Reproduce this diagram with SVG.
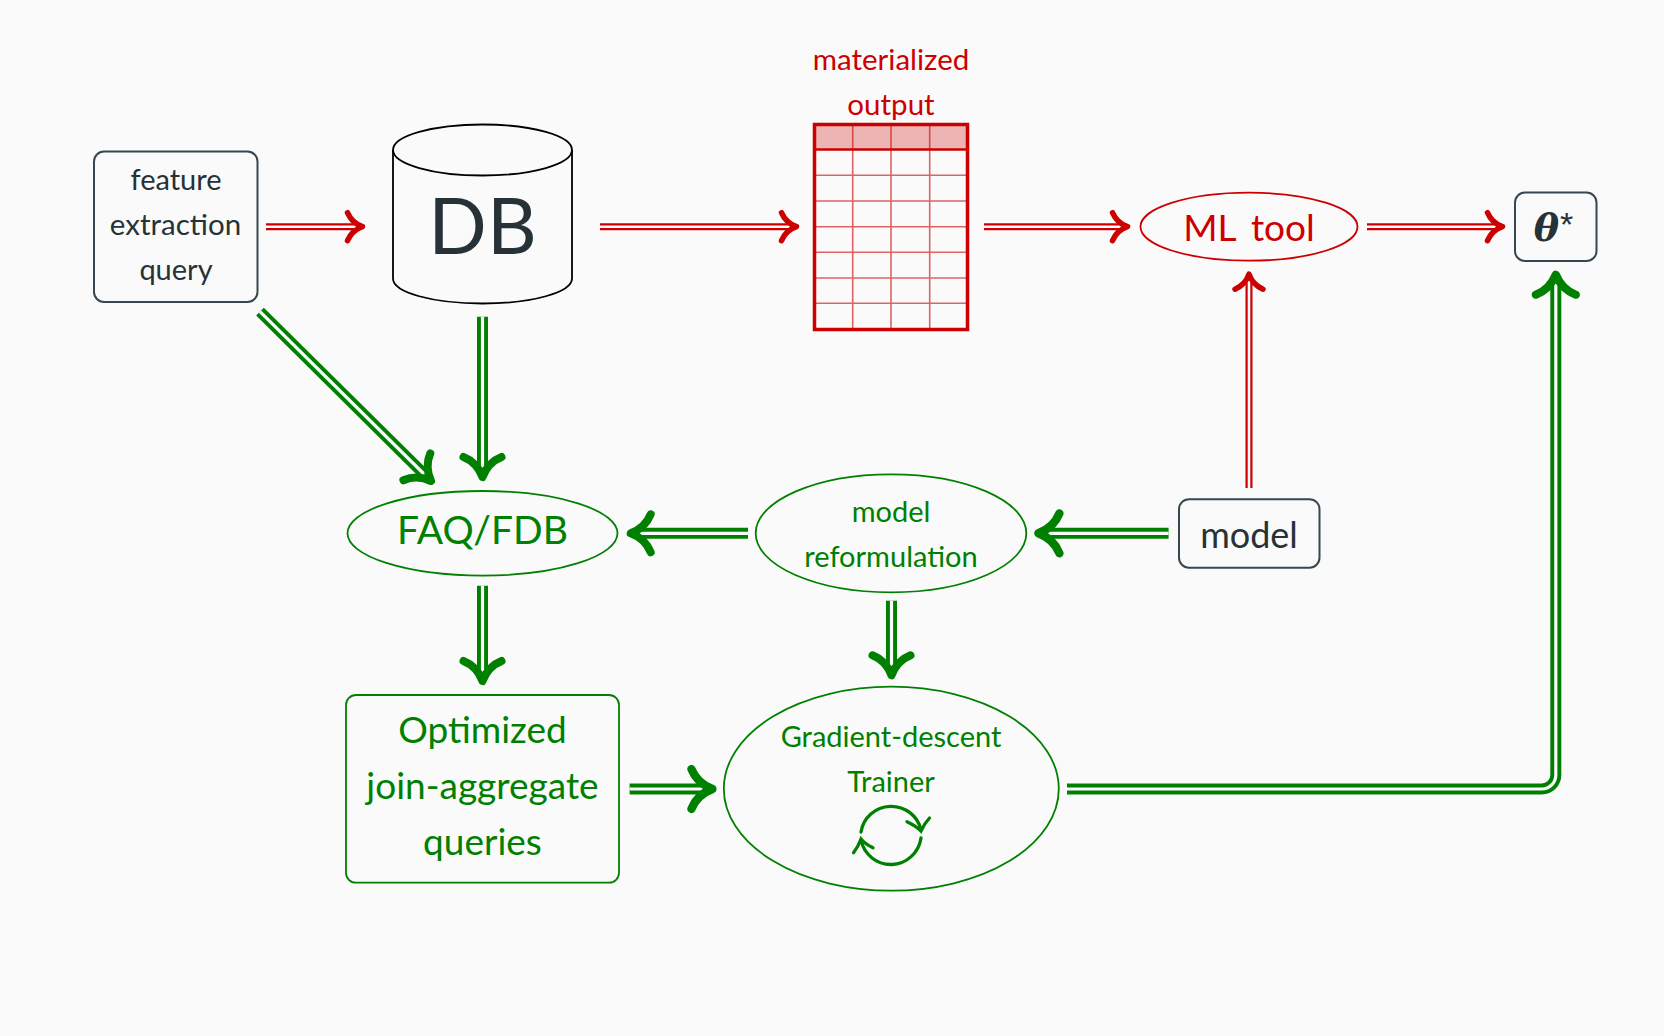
<svg xmlns="http://www.w3.org/2000/svg" width="1664" height="1036" viewBox="0 0 1664 1036">
<style>
text{font-family:"Lato","Noto Sans",sans-serif;text-anchor:middle}
.dk{fill:#263238}.rd{fill:#cc0000}.gn{fill:#008000}
.bx{fill:none;stroke:#37474f;stroke-width:2}
.rs{fill:none;stroke:#cc0000;stroke-width:1.8}
.gs{fill:none;stroke:#008000;stroke-width:1.8}
.lo{fill:none;stroke-linejoin:round}
.r1{stroke:#cc0000;stroke-width:7}
.g1{stroke:#008000;stroke-width:11}
.gap-r{stroke:#fafafa;stroke-width:2.6}
.gap-g{stroke:#fafafa;stroke-width:3.2}
.hr{fill:none;stroke:#cc0000;stroke-width:5.5;stroke-linecap:round;stroke-linejoin:round}
.hg{fill:none;stroke:#008000;stroke-width:8;stroke-linecap:round;stroke-linejoin:round}
.grid{stroke:#cc0000;stroke-opacity:.6;stroke-width:1.6;fill:none}
</style>
<defs>
<path id="hr" class="hr" d="M-15-14C-12-7-6-2 0 0C-6 2-12 7-15 14"/>
<path id="hg" class="hg" d="M-20-19C-16-9-8-3 0 0C-8 3-16 9-20 19"/>
</defs>
<rect width="1664" height="1036" fill="#fafafa"/>
<g id="connectors">
<path class="lo r1" d="M266 226.700H360"/><path class="lo gap-r" d="M266 226.700H360"/><use href="#hr" transform="translate(362.500 226.700)"/>
<path class="lo r1" d="M600 226.700H794"/><path class="lo gap-r" d="M600 226.700H794"/><use href="#hr" transform="translate(796.500 226.700)"/>
<path class="lo r1" d="M984 226.700H1125"/><path class="lo gap-r" d="M984 226.700H1125"/><use href="#hr" transform="translate(1127.500 226.700)"/>
<path class="lo r1" d="M1367 226.700H1500"/><path class="lo gap-r" d="M1367 226.700H1500"/><use href="#hr" transform="translate(1502.500 226.700)"/>
<path class="lo r1" d="M1249 488V277"/><path class="lo gap-r" d="M1249 488V277"/><use href="#hr" transform="translate(1249 274.200) rotate(-90)"/>
<path class="lo g1" d="M260 311.700L428 478"/><path class="lo gap-g" d="M260 311.700L428 478"/><use href="#hg" transform="translate(431 481) rotate(45)"/>
<path class="lo g1" d="M482.500 316.700V473"/><path class="lo gap-g" d="M482.500 316.700V473"/><use href="#hg" transform="translate(482.500 477) rotate(90)"/>
<path class="lo g1" d="M1168.600 533.300H1043"/><path class="lo gap-g" d="M1168.600 533.300H1043"/><use href="#hg" transform="translate(1038.400 533.300) rotate(180) scale(1.05)"/>
<path class="lo g1" d="M748 533.300H635"/><path class="lo gap-g" d="M748 533.300H635"/><use href="#hg" transform="translate(630.700 533.300) rotate(180)"/>
<path class="lo g1" d="M482.500 585.700V677"/><path class="lo gap-g" d="M482.500 585.700V677"/><use href="#hg" transform="translate(482.500 681) rotate(90)"/>
<path class="lo g1" d="M891.500 600.700V671"/><path class="lo gap-g" d="M891.500 600.700V671"/><use href="#hg" transform="translate(891.500 675.300) rotate(90)"/>
<path class="lo g1" d="M629.600 789H708"/><path class="lo gap-g" d="M629.600 789H708"/><use href="#hg" transform="translate(712.400 789) scale(1.05)"/>
<path class="lo g1" d="M1067 789H1541.800A14 14 0 0 0 1555.800 775V279"/><path class="lo gap-g" d="M1067 789H1541.800A14 14 0 0 0 1555.800 775V279"/><use href="#hg" transform="translate(1555.800 274.700) rotate(-90) scale(1 1.05)"/>
</g>
<g id="feature"><rect class="bx" x="94" y="151.500" width="163.500" height="150.500" rx="10"/>
<text class="dk" x="176" y="190" font-size="29">feature</text><text class="dk" x="175.500" y="235" font-size="29.500">extraction</text><text class="dk" x="176" y="280" font-size="29">query</text></g>
<g id="db"><path d="M393 150V278.500C393 292.500 433 303.500 482.500 303.500S572 292.500 572 278.500V150" fill="none" stroke="#000" stroke-width="1.800"/><ellipse cx="482.500" cy="150" rx="89.500" ry="25.500" fill="none" stroke="#000" stroke-width="1.800"/>
<text class="dk" x="482.500" y="254" font-size="77">DB</text></g>
<g id="table">
<text class="rd" x="891" y="70" font-size="29.500">materialized</text><text class="rd" x="891" y="115" font-size="29.500">output</text>
<rect x="813" y="123" width="156" height="26.500" fill="#cc0000" fill-opacity=".28"/>
<path class="grid" d="M852.700 123V330M891 123V330M929.700 123V330M813 175.300H969M813 201H969M813 226.700H969M813 252.300H969M813 278H969M813 303.300H969"/>
<path d="M813 149.500H969" stroke="#cc0000" stroke-width="2.500" fill="none"/>
<rect x="814.500" y="124.500" width="153" height="205" fill="none" stroke="#cc0000" stroke-width="3.500"/></g>
<g id="mltool"><ellipse class="rs" cx="1249" cy="226.700" rx="108.500" ry="34"/><text class="rd" x="1249" y="241" font-size="37" word-spacing="6">ML tool</text></g>
<g id="theta"><rect class="bx" x="1515" y="192.500" width="81.500" height="68.500" rx="10"/>
<text x="1546.500" y="240.700" font-size="38" font-weight="bold" font-style="italic" class="dk" style="font-family:'DejaVu Serif','Liberation Serif',serif">θ</text><text class="dk" x="1566.500" y="236" font-size="34" style="font-family:'Liberation Sans',sans-serif">*</text></g>
<g id="model"><rect class="bx" x="1179" y="499.200" width="140.500" height="68.500" rx="10"/><text class="dk" x="1249" y="547.700" font-size="36">model</text></g>
<g id="reform"><ellipse class="gs" cx="891" cy="533.300" rx="135.300" ry="59"/><text class="gn" x="891" y="521.700" font-size="29">model</text><text class="gn" x="891" y="566.700" font-size="29">reformulation</text></g>
<g id="faq"><ellipse class="gs" cx="482.500" cy="533.300" rx="135" ry="42.300"/><text class="gn" x="482.500" y="544.300" font-size="39">FAQ/FDB</text></g>
<g id="optimized"><rect class="gs" x="346" y="695" width="273" height="187.700" rx="10"/><text class="gn" x="482.500" y="743.300" font-size="37">Optimized</text><text class="gn" x="482.500" y="799" font-size="37">join-aggregate</text><text class="gn" x="482.500" y="855" font-size="37">queries</text></g>
<g id="trainer"><ellipse class="gs" cx="891.300" cy="788.700" rx="167.500" ry="102"/><text class="gn" x="891" y="746.700" font-size="29">Gradient-descent</text><text class="gn" x="891" y="791.700" font-size="29">Trainer</text>
<path d="M861 832A30.500 30 0 0 1 921 830M907 821.700Q916 826 921 831Q924 824 929.500 818M921 838A30.500 31 0 0 1 861 840M873 847.700Q865 844 861 839Q858 847 853.500 852.700" fill="none" stroke="#008000" stroke-width="3.300" stroke-linecap="round"/></g>
</svg>
